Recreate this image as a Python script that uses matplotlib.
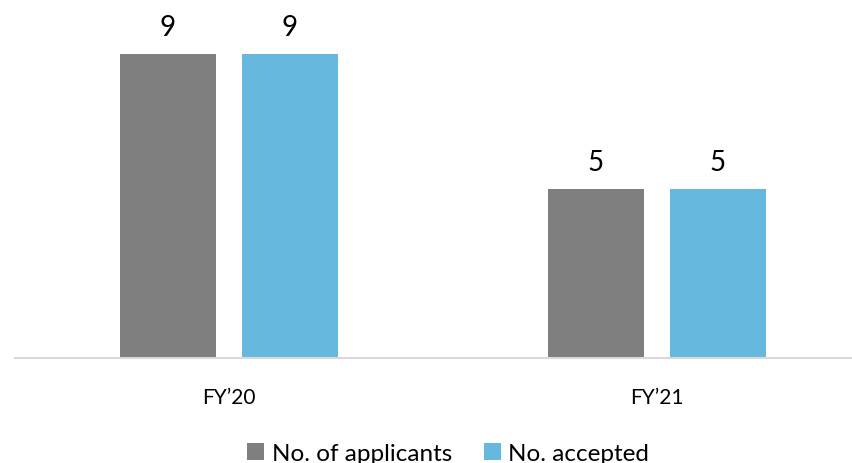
import matplotlib
matplotlib.use("Agg")
import matplotlib.pyplot as plt
import numpy as np

plt.rcParams['font.family'] = ['Lato', 'DejaVu Sans']

categories = ["FY\u201920", "FY\u201921"]
series_names = ["No. of applicants", "No. accepted"]
applicants = [9, 5]
accepted = [9, 5]
colors = ["#7f7f7f", "#67b8de"]

fig = plt.figure(figsize=(8.52, 4.64), dpi=100)
ax = fig.add_axes([15/852, 105/464, (852-15)/852, (359-21)/464])

x = np.arange(len(categories))
w = 0.2246
off = 0.1427
for vals, name, c, sgn in [(applicants, series_names[0], colors[0], -1),
                           (accepted, series_names[1], colors[1], 1)]:
    bars = ax.bar(x + sgn*off, vals, width=w, color=c, label=name)
    for b, v in zip(bars, vals):
        ax.annotate(str(v), (b.get_x() + b.get_width()/2, v), xytext=(0, 10),
                    textcoords="offset points", ha="center", va="bottom",
                    fontsize=20, color="#000000")

ax.set_xlim(-0.5006, 1.457)
ax.set_ylim(0, 10)
ax.set_xticks(x)
ax.set_xticklabels(categories, fontsize=15)
ax.tick_params(axis='x', length=0, pad=21)
ax.set_yticks([])
for s in ["top", "right", "left"]:
    ax.spines[s].set_visible(False)
ax.spines["bottom"].set_color("#d9d9d9")
ax.spines["bottom"].set_linewidth(1.5)

fig.legend(loc="lower center", bbox_to_anchor=(0.526, -0.05), ncol=2, frameon=False,
           fontsize=17.5, handlelength=0.7, handleheight=0.7, handletextpad=0.3,
           columnspacing=1.3)

fig.savefig("out.png", dpi=100)
